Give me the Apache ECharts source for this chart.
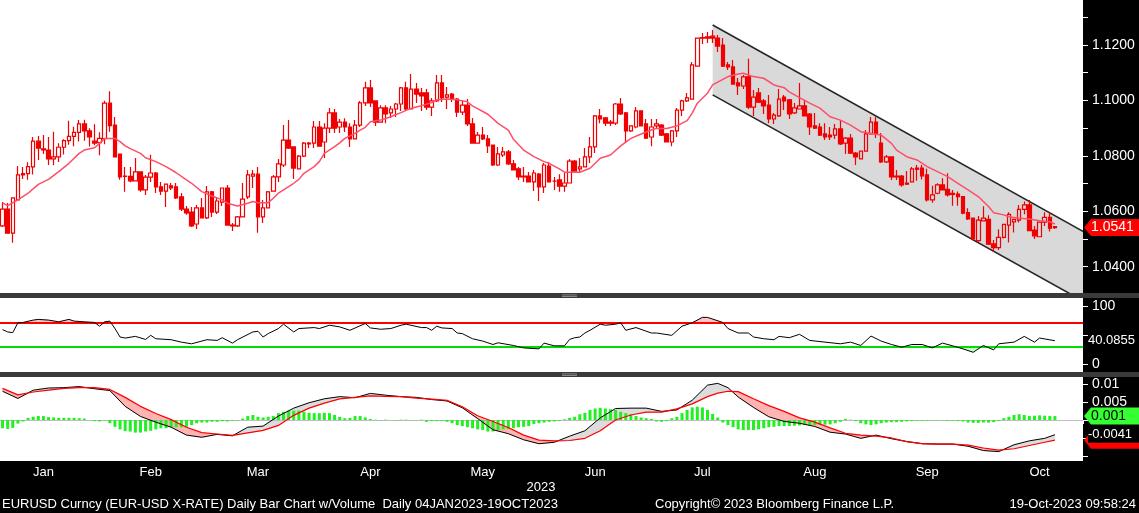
<!DOCTYPE html>
<html><head><meta charset="utf-8">
<script src="https://cdn.jsdelivr.net/npm/echarts@6/dist/echarts.min.js"></script>
<style>html,body{margin:0;padding:0;background:#000;}#c{width:1139px;height:513px;}</style>
</head><body><div id="c"></div>
<script>
// ---------- DATA ----------
const opens = [1.0547,1.0608,1.0521,1.0641,1.0731,1.0736,1.0760,1.0853,1.0825,1.0821,1.0789,1.0796,1.0831,1.0855,1.0870,1.0885,1.0915,1.0890,1.0853,1.0848,
1.0862,1.0990,1.0911,1.0806,1.0726,1.0726,1.0710,1.0742,1.0677,1.0723,1.0738,1.0688,1.0673,1.0692,1.0688,1.0652,1.0608,1.0597,1.0554,1.0612,
1.0576,1.0670,1.0597,1.0633,1.0684,1.0550,1.0547,1.0580,1.0652,1.0727,1.0734,1.0580,1.0612,1.0673,1.0724,1.0767,1.0857,1.0832,1.0753,1.0799,1.0846,1.0846,1.0904,
1.0850,1.0900,1.0955,1.0904,1.0922,1.0904,1.0861,1.0911,1.0991,1.1045,1.0998,1.0922,1.0973,1.0955,1.0969,1.0987,1.1045,1.0969,1.1041,1.1027,
1.1027,1.0976,1.0998,1.1063,1.1012,1.1023,1.1005,1.0958,1.0983,1.0915,1.0846,1.0875,1.0861,1.0839,1.0767,1.0803,1.0814,1.0771,1.0753,1.0727,1.0727,1.0706,1.0734,
1.0688,1.0763,1.0709,1.0713,1.0691,1.0702,1.0781,1.0753,1.0760,1.0796,1.0832,1.0944,1.0937,1.0922,1.0918,1.0987,1.0955,1.0890,1.0904,1.0962,1.0915,1.0868,
1.0908,1.0911,1.0879,1.0850,1.0890,1.0965,1.0998,1.1005,1.1124,1.1225,1.1225,1.1232,1.1225,1.1200,1.1128,1.1121,1.1063,1.1052,1.1085,1.0976,1.1027,
1.0998,1.0983,1.0933,1.0944,1.1012,1.1002,1.0955,1.0969,1.0980,1.0951,1.0908,1.0904,1.0879,1.0875,1.0875,1.0897,1.0846,1.0864,1.0810,1.0789,1.0817,1.0879,1.0922,
1.0846,1.0778,1.0796,1.0727,1.0727,1.0702,1.0706,1.0751,1.0756,1.0731,1.0641,1.0665,1.0695,1.0679,1.0665,1.0662,1.0653,1.0595,1.0575,1.0494,1.0565,
1.0571,1.0482,1.0469,1.0506,1.0550,1.0562,1.0568,1.0607,1.0623,1.0532,1.0508,1.0561,1.0578,1.0545];
const highs = [1.0633,1.0630,1.0651,1.0763,1.0760,1.0777,1.0868,1.0872,1.0875,1.0868,1.0887,1.0845,1.0860,1.0927,1.0905,1.0929,1.0930,1.0900,1.0914,1.0885,
1.0999,1.1033,1.0940,1.0806,1.0760,1.0760,1.0792,1.0742,1.0731,1.0804,1.0742,1.0706,1.0698,1.0702,1.0702,1.0666,1.0619,1.0615,1.0623,1.0648,
1.0691,1.0673,1.0648,1.0684,1.0695,1.0558,1.0583,1.0702,1.0749,1.0749,1.0760,1.0641,1.0673,1.0731,1.0789,1.0911,1.0929,1.0835,1.0803,1.0850,1.0850,1.0926,1.0926,
1.0918,1.0973,1.0969,1.0933,1.0936,1.0918,1.0929,1.0998,1.1067,1.1074,1.0998,1.0983,1.0983,1.0980,1.0991,1.1048,1.1067,1.1095,1.1063,1.1045,
1.1041,1.1009,1.1092,1.1092,1.1048,1.1027,1.1009,1.0998,1.1005,1.0937,1.0886,1.0904,1.0875,1.0839,1.0832,1.0832,1.0821,1.0785,1.0760,1.0760,1.0742,1.0749,1.0738,
1.0774,1.0778,1.0724,1.0734,1.0738,1.0789,1.0785,1.0792,1.0828,1.0868,1.0947,1.0969,1.0940,1.0929,1.0991,1.1009,1.0958,1.0908,1.0976,1.0962,1.0933,1.0933,
1.0933,1.0915,1.0882,1.0893,1.0973,1.1002,1.1027,1.1139,1.1225,1.1243,1.1247,1.1254,1.1236,1.1225,1.1139,1.1146,1.1081,1.1092,1.1150,1.1038,1.1045,
1.1005,1.1020,1.0955,1.1041,1.1020,1.1005,1.0991,1.1063,1.1002,1.0955,1.0955,1.0918,1.0918,1.0904,1.0915,1.0929,1.0868,1.0879,1.0814,1.0817,1.0893,1.0940,1.0940,
1.0882,1.0803,1.0796,1.0749,1.0731,1.0745,1.0760,1.0767,1.0767,1.0753,1.0692,1.0701,1.0719,1.0737,1.0677,1.0671,1.0653,1.0611,1.0575,1.0583,1.0618,
1.0586,1.0496,1.0535,1.0554,1.0596,1.0571,1.0623,1.0635,1.0641,1.0547,1.0561,1.0596,1.0596,1.0545];
const lows = [1.0543,1.0520,1.0486,1.0641,1.0716,1.0714,1.0733,1.0785,1.0807,1.0767,1.0766,1.0778,1.0805,1.0840,1.0835,1.0852,1.0854,1.0834,1.0838,1.0802,
1.0842,1.0887,1.0796,1.0714,1.0670,1.0705,1.0710,1.0670,1.0659,1.0706,1.0666,1.0659,1.0615,1.0677,1.0644,1.0601,1.0587,1.0543,1.0536,1.0576,
1.0572,1.0579,1.0590,1.0619,1.0550,1.0529,1.0543,1.0580,1.0644,1.0684,1.0522,1.0558,1.0612,1.0670,1.0706,1.0760,1.0825,1.0716,1.0753,1.0796,1.0828,1.0828,1.0835,
1.0792,1.0882,1.0882,1.0882,1.0886,1.0832,1.0861,1.0904,1.0980,1.0976,1.0908,1.0922,1.0918,1.0937,1.0940,1.0962,1.0965,1.0969,1.0991,1.0962,
1.0965,1.0944,1.0994,1.0994,1.0969,1.0994,1.0940,1.0947,1.0908,1.0846,1.0846,1.0857,1.0810,1.0763,1.0763,1.0796,1.0767,1.0749,1.0713,1.0706,1.0706,1.0673,1.0637,
1.0666,1.0706,1.0677,1.0670,1.0670,1.0702,1.0745,1.0738,1.0760,1.0774,1.0810,1.0918,1.0908,1.0908,1.0911,1.0947,1.0846,1.0886,1.0900,1.0908,1.0861,1.0835,
1.0900,1.0872,1.0850,1.0835,1.0868,1.0944,1.0994,1.1005,1.1124,1.1204,1.1207,1.1207,1.1175,1.1121,1.1110,1.1059,1.1020,1.1041,1.0969,1.0944,1.0991,
1.0951,1.0918,1.0915,1.0940,1.0965,1.0933,1.0951,1.0969,1.0944,1.0875,1.0897,1.0872,1.0857,1.0857,1.0861,1.0839,1.0807,1.0807,1.0767,1.0789,1.0817,1.0879,1.0864,
1.0774,1.0774,1.0713,1.0713,1.0688,1.0695,1.0706,1.0710,1.0715,1.0635,1.0631,1.0661,1.0677,1.0653,1.0620,1.0620,1.0589,1.0568,1.0496,1.0490,1.0563,
1.0478,1.0454,1.0460,1.0502,1.0487,1.0523,1.0559,1.0589,1.0530,1.0500,1.0508,1.0547,1.0527,1.0536];
const closes = [1.0608,1.0521,1.0648,1.0731,1.0736,1.0761,1.0853,1.0828,1.0821,1.0789,1.0796,1.0831,1.0855,1.0870,1.0885,1.0915,1.0890,1.0868,1.0846,1.0863,
1.0990,1.0909,1.0796,1.0724,1.0727,1.0710,1.0742,1.0677,1.0723,1.0738,1.0688,1.0673,1.0698,1.0684,1.0648,1.0608,1.0594,1.0547,1.0612,1.0576,
1.0670,1.0597,1.0637,1.0684,1.0550,1.0547,1.0580,1.0644,1.0731,1.0734,1.0580,1.0612,1.0670,1.0724,1.0771,1.0857,1.0828,1.0756,1.0799,1.0846,1.0843,1.0904,1.0835,
1.0900,1.0955,1.0900,1.0922,1.0904,1.0861,1.0911,1.0991,1.1045,1.0991,1.0922,1.0973,1.0951,1.0969,1.0987,1.1045,1.0969,1.1041,1.1023,1.1016,
1.0976,1.0998,1.1063,1.1009,1.1020,1.1005,1.0958,1.0983,1.0915,1.0846,1.0875,1.0861,1.0836,1.0767,1.0807,1.0814,1.0771,1.0749,1.0724,1.0724,1.0706,1.0738,1.0688,
1.0767,1.0706,1.0709,1.0691,1.0702,1.0781,1.0745,1.0760,1.0796,1.0832,1.0944,1.0933,1.0918,1.0918,1.0987,1.0951,1.0890,1.0908,1.0962,1.0908,1.0864,1.0904,
1.0915,1.0875,1.0850,1.0890,1.0965,1.0998,1.1009,1.1128,1.1225,1.1227,1.1229,1.1225,1.1196,1.1124,1.1121,1.1059,1.1052,1.1085,1.0976,1.1012,1.0994,
1.0980,1.0933,1.0947,1.1005,1.0998,1.0951,1.0973,1.0980,1.0944,1.0904,1.0900,1.0875,1.0868,1.0868,1.0897,1.0843,1.0864,1.0810,1.0796,1.0817,1.0879,1.0922,1.0879,
1.0778,1.0796,1.0724,1.0724,1.0695,1.0698,1.0753,1.0756,1.0728,1.0641,1.0659,1.0695,1.0677,1.0659,1.0661,1.0653,1.0593,1.0572,1.0500,1.0568,1.0575,
1.0481,1.0469,1.0506,1.0553,1.0589,1.0571,1.0607,1.0623,1.0530,1.0511,1.0561,1.0578,1.0539,1.0541];

// moving average: [day index, value]
const maPts = [[0,1.0630],[1,1.0620],[3,1.0641],[5,1.0665],[7,1.0697],[9,1.0715],[11,1.0743],[13,1.0773],[15,1.0809],[16,1.0821],[18,1.0829],[19,1.0845],[20,1.0863],[22,1.0863],[23,1.0851],[24,1.0836],[25,1.0826],[27,1.0809],[28,1.0793],[30,1.0779],[32,1.0761],[34,1.0739],[36,1.0713],[37,1.0701],[39,1.0671],[41,1.0655],[43,1.0641],[44,1.0629],[46,1.0619],[48,1.0629],[49,1.0635],[50,1.0631],[52,1.0631],[53,1.0647],[54,1.0665],[56,1.0689],[57,1.0701],[58,1.0715],[59,1.0737],[61,1.0761],[62,1.0779],[63,1.0809],[65,1.0833],[66,1.0847],[67,1.0863],[69,1.0881],[70,1.0893],[71,1.0903],[72,1.0923],[74,1.0929],[76,1.0941],[78,1.0956],[80,1.0972],[82,1.0981],[84,1.0992],[85,1.1002],[87,1.1005],[89,1.1002],[91,1.0995],[92,1.0980],[95,1.0950],[97,1.0917],[99,1.0893],[100,1.0860],[102,1.0821],[104,1.0797],[106,1.0779],[107,1.0773],[109,1.0753],[110,1.0741],[113,1.0741],[115,1.0755],[116,1.0773],[117,1.0791],[119,1.0803],[121,1.0836],[123,1.0863],[125,1.0879],[127,1.0893],[128,1.0899],[130,1.0899],[132,1.0908],[134,1.0927],[135,1.0954],[136,1.0990],[138,1.1026],[139,1.1056],[141,1.1076],[142,1.1086],[144,1.1095],[145,1.1098],[147,1.1086],[149,1.1080],[151,1.1056],[153,1.1046],[154,1.1031],[156,1.1010],[158,1.0990],[160,1.0972],[162,1.0941],[164,1.0929],[166,1.0911],[168,1.0887],[170,1.0881],[172,1.0875],[174,1.0845],[175,1.0821],[177,1.0797],[179,1.0785],[181,1.0761],[183,1.0743],[185,1.0725],[187,1.0701],[189,1.0677],[191,1.0653],[193,1.0617],[194,1.0595],[196,1.0587],[197,1.0580],[199,1.0575],[201,1.0572],[203,1.0566],[205,1.0562],[206,1.0554]];

// trend channel drawn on chart: [day index, upper, lower]
const channel = [[139,1.1272,1.1020],[212,1.0522,1.0271]];

// RSI: [day index, value]
const rsiPts = [[0,59.4],[1,55.3],[2,54.1],[3,71.2],[4,71.8],[6,75.9],[7,77.1],[9,75.9],[11,72.9],[13,77.1],[14,74.1],[16,72.9],[18,71.8],[19,65.3],[20,72.9],[21,74.1],[22,61.2],[23,46.5],[24,44.7],[26,47.6],[28,42.3],[29,49.4],[30,43.5],[33,41.8],[35,37.6],[37,34.7],[40,41.8],[42,40.6],[43,45.3],[45,35.9],[46,41.8],[49,55.3],[50,56.5],[51,46.5],[52,52.4],[54,61.2],[55,68.8],[57,55.3],[58,61.2],[61,62.9],[62,61.2],[64,67.0],[66,64.1],[68,58.2],[71,70.0],[72,62.3],[74,60.0],[76,61.2],[78,67.0],[79,68.8],[82,62.9],[83,62.9],[84,58.2],[85,65.3],[86,62.3],[88,61.2],[89,53.5],[90,52.4],[92,43.5],[94,39.4],[96,33.5],[97,36.5],[100,31.8],[102,27.6],[105,25.9],[106,35.9],[108,31.2],[110,31.2],[111,42.3],[112,45.3],[113,46.5],[114,53.5],[115,58.2],[117,68.8],[118,67.0],[120,68.8],[121,71.2],[122,58.2],[124,62.9],[127,53.5],[128,53.5],[131,49.4],[133,65.3],[135,71.2],[137,80.6],[138,80.6],[141,71.8],[142,61.2],[144,53.5],[146,53.5],[147,46.5],[149,43.5],[151,41.8],[152,47.6],[154,45.3],[156,51.2],[158,40.6],[161,37.6],[164,34.7],[166,37.6],[168,31.8],[170,48.2],[172,39.4],[174,33.5],[176,28.8],[178,33.5],[180,33.5],[182,27.6],[184,35.9],[186,31.2],[188,25.9],[190,20.0],[192,31.8],[194,24.1],[195,34.7],[198,37.6],[200,47.6],[202,37.6],[203,44.7],[206,40.0855]];
const rsiLevels = [70, 30];

// MACD: [day index, macd, signal]
const macdPts = [[0,0.0080,0.0088],[3,0.0060,0.0070],[6,0.0083,0.0078],[9,0.0089,0.0083],[12,0.0090,0.0088],[15,0.0093,0.0090],[18,0.0087,0.0090],[21,0.0082,0.0085],[24,0.0038,0.0063],[27,0.0010,0.0038],[30,-0.0006,0.0018],[33,-0.0020,0.0001],[36,-0.0042,-0.0020],[39,-0.0048,-0.0035],[42,-0.0040,-0.0039],[45,-0.0044,-0.0043],[48,-0.0020,-0.0036],[51,-0.0017,-0.0029],[54,0.0011,-0.0015],[57,0.0033,0.0013],[60,0.0048,0.0033],[63,0.0059,0.0047],[66,0.0065,0.0059],[69,0.0062,0.0063],[72,0.0074,0.0067],[75,0.0069,0.0066],[78,0.0065,0.0065],[81,0.0063,0.0061],[84,0.0057,0.0058],[87,0.0053,0.0055],[90,0.0034,0.0037],[93,0.0004,0.0012],[96,-0.0027,-0.0004],[99,-0.0038,-0.0021],[102,-0.0055,-0.0042],[105,-0.0066,-0.0056],[108,-0.0062,-0.0058],[111,-0.0045,-0.0057],[114,-0.0030,-0.0051],[117,0.0006,-0.0030],[120,0.0032,0.0000],[123,0.0033,0.0014],[126,0.0033,0.0022],[129,0.0024,0.0022],[132,0.0028,0.0031],[135,0.0055,0.0045],[138,0.0097,0.0065],[140,0.0102,0.0075],[142,0.0090,0.0080],[144,0.0064,0.0079],[147,0.0035,0.0059],[150,0.0009,0.0040],[153,-0.0004,0.0024],[156,-0.0009,0.0006],[159,-0.0018,-0.0006],[162,-0.0034,-0.0022],[165,-0.0039,-0.0037],[168,-0.0051,-0.0042],[171,-0.0042,-0.0045],[174,-0.0052,-0.0050],[177,-0.0060,-0.0060],[180,-0.0066,-0.0066],[183,-0.0067,-0.0067],[186,-0.0067,-0.0067],[189,-0.0073,-0.0070],[192,-0.0085,-0.0078],[195,-0.0088,-0.0084],[198,-0.0069,-0.0080],[201,-0.0058,-0.0071],[204,-0.0051,-0.0062],[206,-0.0041,-0.0056]];

// MACD histogram, one bar per day (x 1e-4)
const histE4 = [-23,-25,-22,-10,-4, 6,9,11,11,8,7,6,6,6,6,5,4, 0,-3,-4,-1,
-9,-19,-26,-31,-32,-35,-35,-32,-30,-26,-23,-23,-20,-20,-20,-19,-14,-9,-7,-7,-5,-5,
-3,-4,-2,-1, 4,
11,14,9,7,9,11,19,23,26,26,26,23,20,19,19,20,19,14,9,5,6,11,11,7,3,
1,-1,1,0,-1,1,1,0,-1,1,
-5,-3,-3,-2,-5,-9,-14,-17,-20,-23,-26,-28,-32,-32,-28,-26,-25,-23,-20,-19,-17,-11,-9,-7,-5,-4,
-2,2,
6,9,16,20,28,32,34,32,30,28,23,19,16,11,7,5,3,
-4,-5,-3,
5,9,19,28,35,37,35,28,17,7,
-7,-14,-20,-26,-28,-28,-28,-26,-23,-20,-19,-17,-17,-17,-16,-15,-14,
-14,-14,-13,-13,-12,-9,-5,
3,1,
-3,-9,-12,-14,-12,-9,-7,-6,-6,-5,-4,
-3,-2,-2,-2,-1,-1,-1,-2,-2,-3,-4,-7,-8,-8,-7,-7,-6,-2,
5,9,14,16,14,11,12,13,12,11,11];

const monthNames = ['Jan','Feb','Mar','Apr','May','Jun','Jul','Aug','Sep','Oct'];
const monthLabelIdx = [8,29,50,72,94,116,137,159,181,203];
const monthStartIdx = [20,40,63,83,106,128,149,172,193];
const mainTicks = [1.04,1.05,1.06,1.07,1.08,1.09,1.10,1.11,1.12,1.13];
const mainLabels = [1.04,1.06,1.08,1.10,1.12];
const rsiTicks = [0,50,100], rsiLabels = [0,100];
const macdTicks = [-0.01,-0.005,0,0.005,0.01], macdLabels = [0.005,0.01];
const lastPrice = 1.0541, lastRsi = 40.0855, lastHist = '0.001', lastMacd = '-0.0041';

// ---------- BUILD ----------
const N = closes.length, PAD = 5;
const cats = [];
let d = new Date(Date.UTC(2023,0,4));
while (cats.length < N) { const w = d.getUTCDay(); if (w !== 0 && w !== 6) cats.push(d.toISOString().slice(0,10)); d = new Date(d.getTime() + 86400000); }
for (let k = 0; k < PAD; k++) cats.push('pad' + k);

const FONT = "'Liberation Sans',sans-serif";
const W = 1083;
const grids = [
  {left:0, top:0, width:W, height:293, show:true, backgroundColor:'#fff', borderWidth:0},
  {left:0, top:298, width:W, height:74, show:true, backgroundColor:'#fff', borderWidth:0},
  {left:0, top:377, width:W, height:84, show:true, backgroundColor:'#fff', borderWidth:0}
];
function xAx(gi, showLabels){
  return {type:'category', gridIndex:gi, data:cats, boundaryGap:true,
    axisLine:{show:false},
    axisTick:{show:showLabels, length:4, lineStyle:{color:'#fff'}, interval:(i)=>monthStartIdx.includes(i)},
    axisLabel:{show:showLabels, color:'#fff', fontFamily:FONT, fontSize:13, margin:5,
      interval:(i)=>monthLabelIdx.includes(i), formatter:(v,i)=>monthNames[monthLabelIdx.indexOf(i)] || ''},
    splitLine:{show:false}};
}
function yAx(gi, min, max, ticks, labels, fmt){
  return {type:'value', gridIndex:gi, position:'right', min:min, max:max, scale:true,
    axisLine:{show:false}, splitLine:{show:false},
    axisTick:{show:true, length:5, lineStyle:{color:'#fff'}, customValues:ticks},
    axisLabel:{show:true, color:'#fff', fontFamily:FONT, fontSize:14, margin:9, customValues:labels, formatter:fmt, showMinLabel:true, showMaxLabel:true}};
}

function bandRenderer(rows, colorPos, colorNeg){
  return function(params, api){
    const k = params.dataIndex;
    if (k >= rows.length - 1) return null;
    const r0 = rows[k], r1 = rows[k+1];
    const A0 = api.coord([r0[0], r0[1]]), B0 = api.coord([r0[0], r0[2]]);
    const A1 = api.coord([r1[0], r1[1]]), B1 = api.coord([r1[0], r1[2]]);
    const d0 = r0[1] - r0[2], d1 = r1[1] - r1[2];
    const kids = [];
    const add = (pts, dd) => { const c = dd > 0 ? colorPos : colorNeg; if (c) kids.push({type:'polygon', shape:{points:pts}, style:{fill:c, stroke:c, lineWidth:0.6}, silent:true}); };
    if (d0 * d1 >= 0) add([A0, A1, B1, B0], d0 + d1);
    else {
      const t = d0 / (d0 - d1);
      const C = [A0[0] + t*(A1[0]-A0[0]), A0[1] + t*(A1[1]-A0[1])];
      add([A0, C, B0], d0); add([C, A1, B1], d1);
    }
    return {type:'group', children:kids};
  };
}
// horizontal reference band across the whole grid, positioned through the axis scale
function levelLine(xi, yi, value, color, width, z){
  return {type:'custom', xAxisIndex:xi, yAxisIndex:yi, z:z, silent:true, data:[[0, value]],
    renderItem:function(params, api){
      const cs = params.coordSys;
      const y = Math.round(api.coord([0, api.value(1)])[1]);
      return {type:'rect', shape:{x:cs.x, y:y - Math.floor(width/2), width:cs.width, height:width}, style:{fill:color, stroke:null}};
    }};
}

const rsiHiRows = rsiPts.map(p => [p[0], p[1], rsiLevels[0]]);
const rsiLoRows = rsiPts.map(p => [p[0], p[1], rsiLevels[1]]);

const option = {
  animation:false,
  backgroundColor:'#000',
  grid: grids,
  xAxis: [xAx(0,false), xAx(1,false), xAx(2,true)],
  yAxis: [
    yAx(0, 1.03050, 1.13624, mainTicks, mainLabels, v => v.toFixed(4)),
    yAx(1, -14.3, 114.3, rsiTicks, rsiLabels, v => String(Math.round(v))),
    yAx(2, -0.01141, 0.01197, macdTicks, macdLabels, v => (Math.round(v*1000)/1000).toString())
  ],
  series: [
    {type:'custom', name:'channel', xAxisIndex:0, yAxisIndex:0, clip:true, z:1, silent:true,
      data:[[channel[0][0], channel[0][1], channel[0][2], channel[1][0], channel[1][1], channel[1][2]]],
      renderItem:function(params, api){
        const a = api.coord([api.value(0), api.value(1)]), b = api.coord([api.value(0), api.value(2)]);
        const c = api.coord([api.value(3), api.value(4)]), e = api.coord([api.value(3), api.value(5)]);
        return {type:'group', children:[
          {type:'polygon', shape:{points:[a,c,e,b]}, style:{fill:'#d9d9d9'}},
          {type:'line', shape:{x1:a[0],y1:a[1],x2:c[0],y2:c[1]}, style:{stroke:'#262626', lineWidth:1.6}},
          {type:'line', shape:{x1:b[0],y1:b[1],x2:e[0],y2:e[1]}, style:{stroke:'#262626', lineWidth:1.6}}
        ]};
      }},
    {type:'candlestick', xAxisIndex:0, yAxisIndex:0, z:3, barWidth:4,
      data: opens.map((o,k) => [o, closes[k], lows[k], highs[k]]),
      itemStyle:{color:'rgba(255,255,255,0)', color0:'#f00000', borderColor:'#f00000', borderColor0:'#f00000', borderWidth:1.2}},
    {type:'line', xAxisIndex:0, yAxisIndex:0, z:4, data:maPts, symbol:'none', lineStyle:{color:'#ff4d6a', width:1.5}},

    {type:'custom', xAxisIndex:1, yAxisIndex:1, z:1, data:rsiHiRows, renderItem:bandRenderer(rsiHiRows, '#ffc4c4', null), silent:true},
    {type:'custom', xAxisIndex:1, yAxisIndex:1, z:1, data:rsiLoRows, renderItem:bandRenderer(rsiLoRows, null, '#c8ffc8'), silent:true},
    levelLine(1, 1, rsiLevels[0], '#ff0000', 2, 3),
    levelLine(1, 1, rsiLevels[1], '#00dd00', 2, 3),
    {type:'line', xAxisIndex:1, yAxisIndex:1, z:4, data:rsiPts, symbol:'none', lineStyle:{color:'#000', width:1}},

    {type:'custom', xAxisIndex:2, yAxisIndex:2, z:1, data:macdPts, renderItem:bandRenderer(macdPts, '#dcdcdc', '#ffb4b4'), silent:true},
    levelLine(2, 2, 0, '#bdbdbd', 1, 2),
    {type:'bar', xAxisIndex:2, yAxisIndex:2, z:3, barWidth:3, data:histE4.map(v => v/10000), itemStyle:{color:'#22f022'}},
    {type:'line', xAxisIndex:2, yAxisIndex:2, z:5, data:macdPts.map(r => [r[0], r[1]]), symbol:'none', lineStyle:{color:'#000', width:1}},
    {type:'line', xAxisIndex:2, yAxisIndex:2, z:5, data:macdPts.map(r => [r[0], r[2]]), symbol:'none', lineStyle:{color:'#ff0000', width:1.2}}
  ]
};

const chart = echarts.init(document.getElementById('c'), null, {renderer:'canvas'});
chart.setOption(option);

// ---------- overlays (separators, tags, footer) ----------
function tag(y, fill, textColor, text, h){
  h = h || 17;
  const x0 = 1084;
  return [
    {type:'polygon', z:100, shape:{points:[[x0,y],[x0+7,y-h/2],[1139,y-h/2],[1139,y+h/2],[x0+7,y+h/2]]}, style:{fill:fill}},
    {type:'text', z:101, x:1091, y:y, style:{text:text, fill:textColor, font:'14px ' + FONT, verticalAlign:'middle'}}
  ];
}
const yPrice = chart.convertToPixel({yAxisIndex:0}, lastPrice);
const yRsi = chart.convertToPixel({yAxisIndex:1}, lastRsi);
const yHist = chart.convertToPixel({yAxisIndex:2}, histE4[histE4.length-1]/10000);
const yMacd = chart.convertToPixel({yAxisIndex:2}, macdPts[macdPts.length-1][1]);
const ySig = chart.convertToPixel({yAxisIndex:2}, macdPts[macdPts.length-1][2]);

const g = [];
[293, 372].forEach(y => {
  g.push({type:'rect', z:90, shape:{x:0, y:y, width:1139, height:5}, style:{fill:'#3a3a3a'}});
  g.push({type:'rect', z:91, shape:{x:562, y:y+1.5, width:15, height:0.8}, style:{fill:'#9a9a9a'}});
  g.push({type:'rect', z:91, shape:{x:562, y:y+3, width:15, height:0.8}, style:{fill:'#9a9a9a'}});
});
g.push(...tag(yPrice, '#ff0000', '#fff', lastPrice.toFixed(4)));
g.push({type:'text', z:101, x:1088, y:yRsi, style:{text:String(lastRsi), fill:'#fff', font:'13px ' + FONT, verticalAlign:'middle'}});
g.push(...tag(ySig, '#ff0000', '#ff0000', ''));
g.push(...tag(yHist, '#33ff33', '#000', lastHist));
g.push({type:'rect', z:102, shape:{x:1088, y:yMacd-8, width:51, height:16}, style:{fill:'#000'}});
g.push({type:'text', z:103, x:1088, y:yMacd, style:{text:lastMacd, fill:'#fff', font:'13px ' + FONT, verticalAlign:'middle'}});
g.push({type:'text', z:100, x:541, y:487, style:{text:'2023', fill:'#fff', font:'13px ' + FONT, align:'center', verticalAlign:'middle'}});
g.push({type:'text', z:100, x:2, y:504, style:{text:'EURUSD Curncy (EUR-USD X-RATE) Daily Bar Chart w/Volume  Daily 04JAN2023-19OCT2023', fill:'#fff', font:'13px ' + FONT, verticalAlign:'middle'}});
g.push({type:'text', z:100, x:655, y:504, style:{text:'Copyright\u00a9 2023 Bloomberg Finance L.P.', fill:'#fff', font:'13px ' + FONT, verticalAlign:'middle'}});
g.push({type:'text', z:100, x:1136, y:504, style:{text:'19-Oct-2023 09:58:24', fill:'#fff', font:'13px ' + FONT, align:'right', verticalAlign:'middle'}});
chart.setOption({graphic:g});
</script></body></html>
